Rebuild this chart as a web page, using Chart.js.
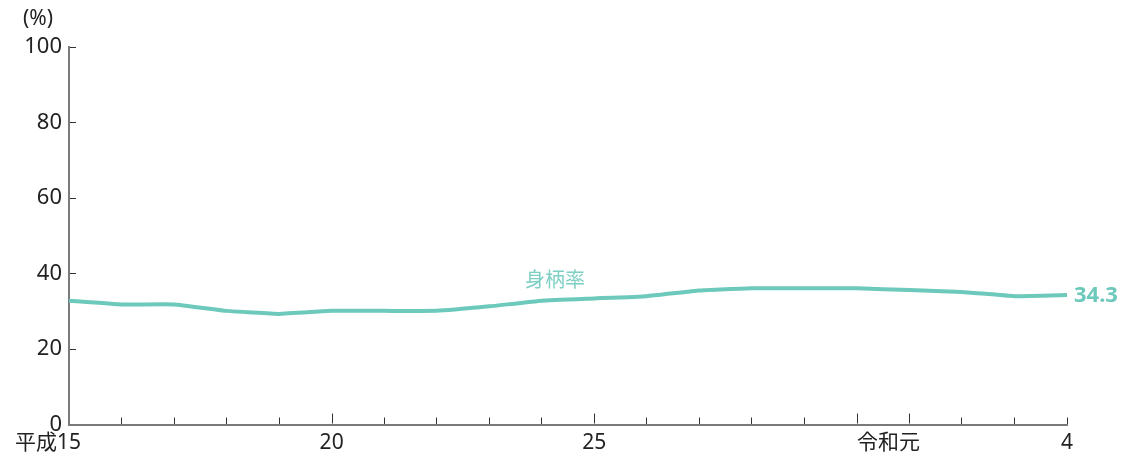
<!DOCTYPE html>
<html lang="ja">
<head>
<meta charset="utf-8">
<script src="https://cdn.jsdelivr.net/npm/chart.js@4/dist/chart.umd.min.js"></script>
<style>
html,body{margin:0;padding:0;background:#fff;}
#wrap{position:relative;width:1126px;height:454px;}
</style>
</head>
<body>
<div id="wrap"><canvas id="c" width="1126" height="454"></canvas></div>
<script>
const categories = ['平成15','16','17','18','19','20','21','22','23','24','25','26','27','28','29','30','令和元','2','3','4'];
const tickLabels = ['平成15','','','','','20','','','','','25','','','','','','令和元','','','4'];
const majorTickIndex = [5, 10, 15, 16];
const seriesName = '身柄率';
const seriesValues = [32.8, 31.8, 31.8, 30.1, 29.3, 30.1, 30.1, 30.1, 31.3, 32.8, 33.4, 34.0, 35.5, 36.1, 36.1, 36.1, 35.6, 35.1, 34.0, 34.3];
const yTicks = [0, 20, 40, 60, 80, 100];

const LINE = '#6cc9bb';
const FONT = '"Noto Sans", "Noto Sans CJK JP", sans-serif';
const CJK = '"Noto Sans CJK JP", sans-serif';

function padLabel(s){
  // keep the numeric part centred on the tick: pad right by the width of the era prefix
  if (s.startsWith('平成') || s.startsWith('令和')) return s + '\u2003\u2003';
  return s;
}

const extras = {
  id: 'extras',
  afterDraw(chart){
    const ctx = chart.ctx;
    const x = chart.scales.x, y = chart.scales.y;
    ctx.save();
    // longer major ticks
    ctx.strokeStyle = '#333';
    ctx.lineWidth = 1;
    majorTickIndex.forEach(i => {
      const px = Math.round(x.getPixelForTick(i)) + 0.5;
      ctx.beginPath();
      ctx.moveTo(px, y.bottom - 1);
      ctx.lineTo(px, y.bottom - 11);
      ctx.stroke();
    });
    // unit label
    ctx.fillStyle = '#222';
    ctx.font = '21px ' + FONT;
    ctx.textAlign = 'left';
    ctx.textBaseline = 'middle';
    ctx.fillText('(%)', 23, 19);
    // series label
    ctx.fillStyle = '#7fd0c4';
    ctx.font = '20px ' + CJK;
    ctx.textAlign = 'center';
    ctx.fillText(seriesName, 555, 279);
    // last value label
    const last = seriesValues.length - 1;
    ctx.fillStyle = LINE;
    ctx.font = 'bold 22px ' + FONT;
    ctx.textAlign = 'left';
    ctx.fillText(seriesValues[last].toFixed(1), x.getPixelForValue(last) + 7, y.getPixelForValue(seriesValues[last]) + 1);
    ctx.restore();
  }
};

new Chart(document.getElementById('c'), {
  type: 'line',
  data: {
    labels: categories,
    datasets: [{
      label: seriesName,
      data: seriesValues,
      borderColor: LINE,
      borderWidth: 4,
      pointRadius: 0,
      tension: 0.1,
      fill: false
    }]
  },
  options: {
    responsive: false,
    animation: false,
    devicePixelRatio: 1,
    layout: { padding: { top: 47, right: 59, bottom: 0, left: 0 } },
    plugins: { legend: { display: false }, tooltip: { enabled: false } },
    scales: {
      x: {
        type: 'category',
        offset: false,
        border: { display: true, color: '#7a7a7a', width: 2 },
        grid: {
          drawOnChartArea: false, drawTicks: true, tickLength: -7, tickWidth: 1,
          tickColor: c => majorTickIndex.includes(c.index) ? 'rgba(0,0,0,0)' : '#333'
        },
        ticks: {
          autoSkip: false, maxRotation: 0, minRotation: 0, padding: 13,
          color: '#222', font: { family: FONT, size: 21 },
          callback: (v, i) => padLabel(tickLabels[i])
        },
        afterFit: s => { s.height = 29.5; }
      },
      y: {
        min: 0, max: 100,
        afterBuildTicks: s => { s.ticks = yTicks.map(v => ({ value: v })); },
        border: { display: true, color: '#7a7a7a', width: 2 },
        grid: { drawOnChartArea: false, drawTicks: true, tickLength: -7, tickColor: '#333', tickWidth: 1 },
        ticks: {
          padding: 14, color: '#222', font: { family: FONT, size: 22 },
          callback: v => v
        },
        afterFit: s => { s.width = 69; }
      }
    }
  },
  plugins: [extras]
});
</script>
</body>
</html>
